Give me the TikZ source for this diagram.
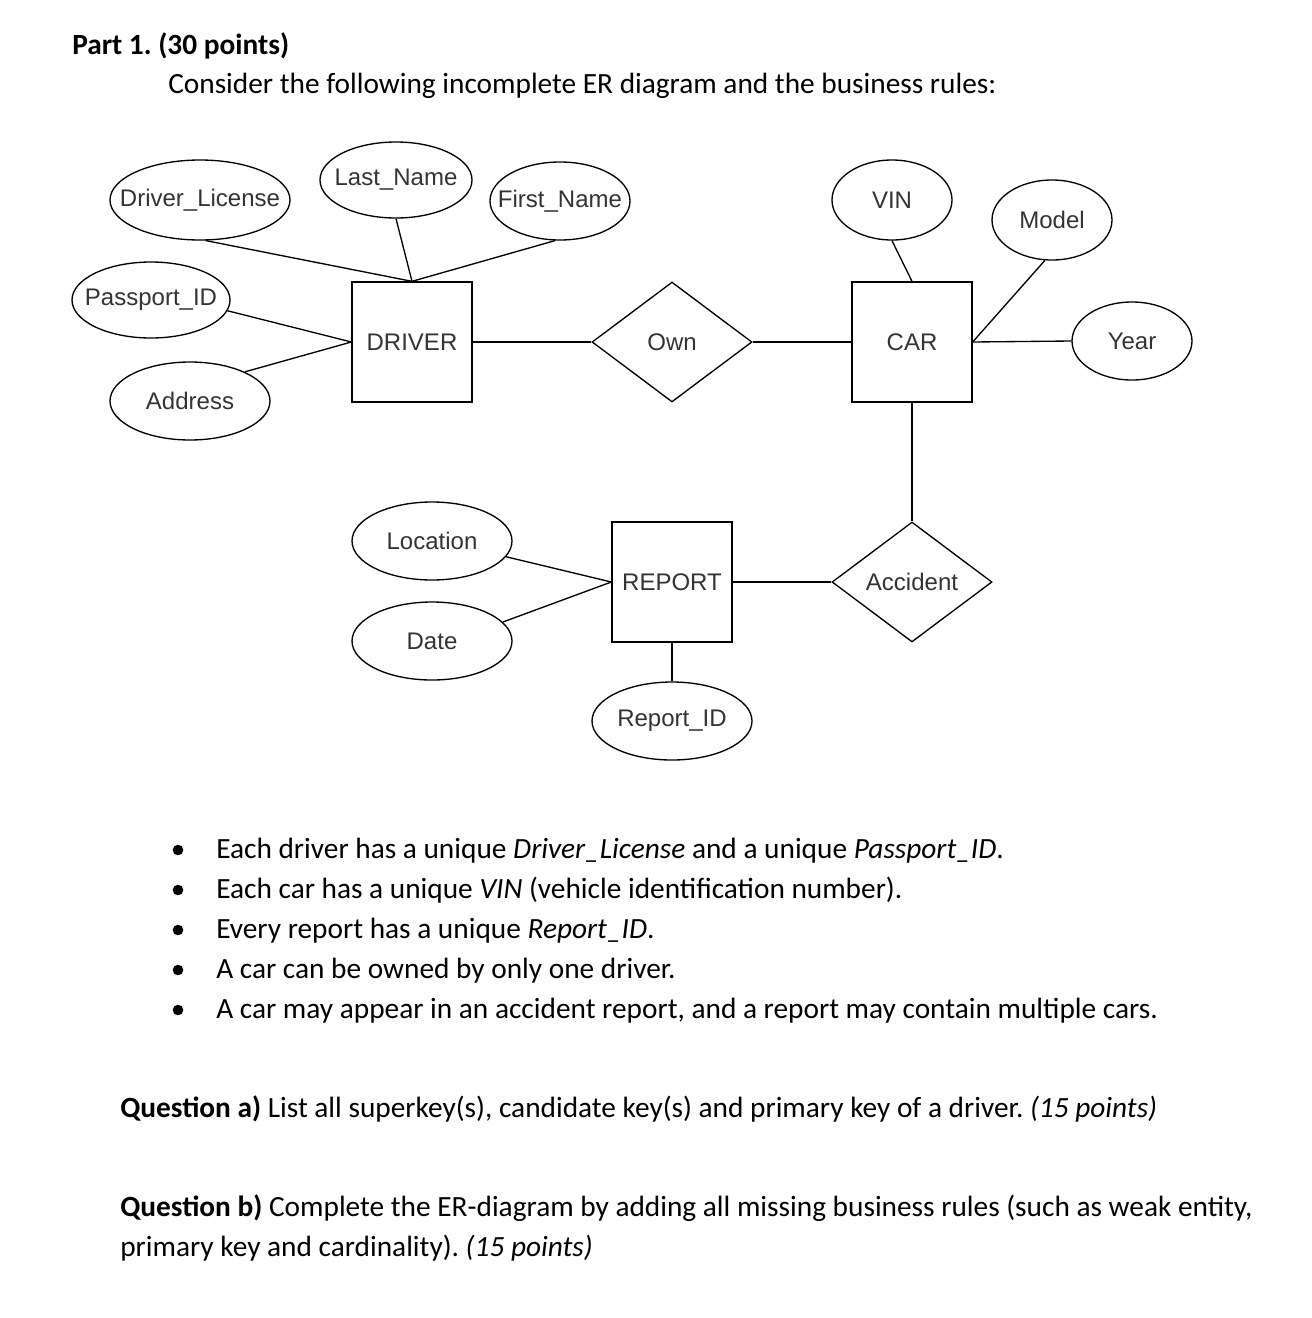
\documentclass[tikz,border=0pt]{standalone}
\usepackage{fontspec}
\setmainfont{Carlito}
\newfontfamily\arialf{Liberation Sans}
\usetikzlibrary{shapes.geometric}
\newcommand{\zw}[1]{\makebox[0pt][c]{#1}}
\frenchspacing
\begin{document}
\begin{tikzpicture}[x=0.75pt,y=-0.75pt,
  lw/.style={line width=1pt},
  dtext/.style={font=\arialf\fontsize{18}{21}\selectfont,text=black!80},
  attr/.style 2 args={ellipse,draw,lw,dtext,inner sep=0pt,minimum width=#1,minimum height=#2},
  ent/.style={rectangle,draw,lw,dtext,inner sep=0pt,minimum width=90pt,minimum height=90pt},
  rel/.style={diamond,draw,lw,dtext,inner sep=0pt,minimum width=120pt,minimum height=90pt},
  conn/.style={lw},
  body/.style={anchor=base west,inner sep=0pt,font=\fontsize{22}{26}\selectfont\frenchspacing},
  bul/.style={circle,fill=black,inner sep=0pt,minimum size=8pt}
]
\useasboundingbox (0,0) rectangle (1312,1318);

% header
\node[body] (title) at (72,54) {\textbf{Part 1. (30 points)}};
\node[body] (intro) at (168,93) {Consider the following incomplete ER diagram and the business rules:};

% entities
\node[ent] (DRV) at (412,342) {DRIVER};
\node[ent] (CAR) at (912,342) {CAR};
\node[ent] (REP) at (672,582) {REPORT};

% relationships
\node[rel] (OWN) at (672,342) {\zw{Own}};
\node[rel] (ACC) at (912,582) {\zw{Accident}};

% attributes
\node[attr={135pt}{60pt}] (DL) at (200,200) {\zw{Driver\_License}};
\node[attr={114pt}{57pt}] (LN) at (396,180) {\zw{Last\_Name}};
\node[attr={105pt}{58.5pt}] (FN) at (560,201) {\zw{First\_Name}};
\node[attr={118.5pt}{57pt}] (PID) at (151,300) {\zw{Passport\_ID}};
\node[attr={120pt}{58.5pt}] (ADR) at (190,401) {\zw{Address}};
\node[attr={90pt}{60pt}] (VIN) at (892,200) {\zw{VIN}};
\node[attr={90pt}{60pt}] (MOD) at (1052,220) {\zw{Model}};
\node[attr={90pt}{58.5pt}] (YR) at (1132,341) {\zw{Year}};
\node[attr={120pt}{58.5pt}] (LOC) at (432,541) {\zw{Location}};
\node[attr={120pt}{58.5pt}] (DAT) at (432,641) {\zw{Date}};
\node[attr={120pt}{58.5pt}] (RID) at (672,721) {\zw{Report\_ID}};

% connectors
\draw[conn] (DL.-82) -- (DRV.north);
\draw[conn] (LN.south) -- (DRV.north);
\draw[conn] (FN.-97) -- (DRV.north);
\draw[conn] (PID.-8) -- (DRV.west);
\draw[conn] (ADR.28) -- (DRV.west);
\draw[conn] (DRV.east) -- (OWN.west);
\draw[conn] (OWN.east) -- (CAR.west);
\draw[conn] (VIN.south) -- (CAR.north);
\draw[conn] (MOD.-100) -- (CAR.east);
\draw[conn] (CAR.east) -- (YR.west);
\draw[conn] (CAR.south) -- (ACC.north);
\draw[conn] (LOC.-12) -- (REP.west);
\draw[conn] (DAT.15) -- (REP.west);
\draw[conn] (REP.east) -- (ACC.west);
\draw[conn] (REP.south) -- (RID.north);

% business rules
\node[bul] (b1) at (178,850) {};
\node[bul] (b2) at (178,890) {};
\node[bul] (b3) at (178,930) {};
\node[bul] (b4) at (178,970) {};
\node[bul] (b5) at (178,1010) {};
\node[body] (r1) at (216,858) {Each driver has a unique \textit{Driver\_License} and a unique \textit{Passport\_ID}.};
\node[body] (r2) at (216,898) {Each car has a unique \textit{VIN} (vehicle identification number).};
\node[body] (r3) at (216,938) {Every report has a unique \textit{Report\_ID}.};
\node[body] (r4) at (216,978) {A car can be owned by only one driver.};
\node[body] (r5) at (216,1018) {A car may appear in an accident report, and a report may contain multiple cars.};

% questions
\node[body] (qa) at (120,1117) {\textbf{Question a)} List all superkey(s), candidate key(s) and primary key of a driver. \textit{(15 points)}};
\node[body] (qb1) at (120,1216) {\textbf{Question b)} Complete the ER-diagram by adding all missing business rules (such as weak entity,};
\node[body] (qb2) at (120,1256) {primary key and cardinality). \textit{(15 points)}};
\end{tikzpicture}
\end{document}
